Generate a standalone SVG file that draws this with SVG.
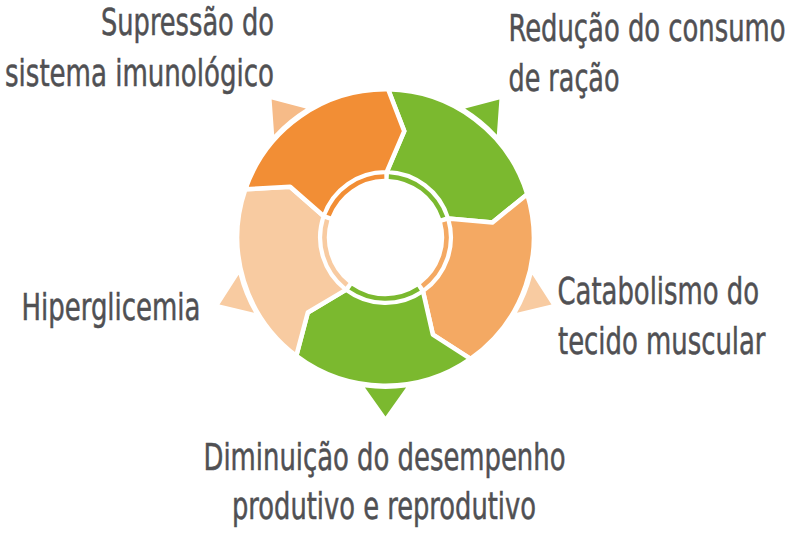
<svg xmlns="http://www.w3.org/2000/svg" width="790" height="534" viewBox="0 0 790 534">
<style>
.seg{stroke:#ffffff;stroke-width:4.5;stroke-linejoin:round}
.ring{fill:none;stroke-width:4.6;stroke-linecap:butt}
.tri{stroke:none}
.lbl{font-family:"Liberation Sans Narrow","DejaVu Sans Condensed","Liberation Sans",Arial,sans-serif;font-size:38px;fill:#505053;stroke:#505053;stroke-width:0.5px}
.green{fill:#7bb92f}
.orange{fill:#f28e35}
.peach{fill:#f4a963}
.light{fill:#f8cba1}
</style>
<rect width="790" height="534" fill="#ffffff"/>
<g id="node-reducao">
<path class="tri green" d="M465.11,108.60 L499.36,99.38 L496.84,134.76 A151.5,151.5 0 0 0 465.11,108.60 Z"/>
<path class="seg green" d="M388.09,89.27 A148.25,148.25 0 0 1 527.27,194.16 L492.45,222.47 L447.90,218.42 A65.25,65.25 0 0 0 386.64,172.26 L404.25,131.14 Z"/>
<path class="ring" stroke="#7bb92f" d="M388.80,176.59 A61,61 0 0 1 443.14,217.54"/>
<text class="lbl" transform="translate(508.5,41) scale(0.76,1)" textLength="364.47" lengthAdjust="spacingAndGlyphs">Redução do consumo</text>
<text class="lbl" transform="translate(508.5,90.5) scale(0.76,1)" textLength="146.05" lengthAdjust="spacingAndGlyphs">de ração</text>
</g>
<g id="node-catabolismo">
<path class="tri light" d="M532.37,274.66 L551.47,304.56 L516.97,312.79 A151.5,151.5 0 0 0 532.37,274.66 Z"/>
<path class="seg peach" d="M527.27,194.16 A148.25,148.25 0 0 1 470.53,358.94 L432.84,334.57 L422.93,290.95 A65.25,65.25 0 0 0 447.90,218.42 L492.45,222.47 Z"/>
<path class="ring" stroke="#f4a963" d="M444.45,221.82 A61,61 0 0 1 422.30,286.15"/>
<text class="lbl" transform="translate(557.5,303.5) scale(0.76,1)" textLength="265.13" lengthAdjust="spacingAndGlyphs">Catabolismo do</text>
<text class="lbl" transform="translate(558,354) scale(0.76,1)" textLength="273.03" lengthAdjust="spacingAndGlyphs">tecido muscular</text>
</g>
<g id="node-diminuicao">
<path class="tri green" d="M406.06,387.60 L385.5,416.5 L364.94,387.60 A151.5,151.5 0 0 0 406.06,387.60 Z"/>
<path class="seg green" d="M470.53,358.94 A148.25,148.25 0 0 1 296.28,355.90 L307.81,312.52 L346.23,289.61 A65.25,65.25 0 0 0 422.93,290.95 L432.84,334.57 Z"/>
<path class="ring" stroke="#7bb92f" d="M418.63,288.72 A61,61 0 0 1 350.60,287.53"/>
<text class="lbl" transform="translate(203.5,469.5) scale(0.76,1)" textLength="476.32" lengthAdjust="spacingAndGlyphs">Diminuição do desempenho</text>
<text class="lbl" transform="translate(232,518.5) scale(0.76,1)" textLength="400" lengthAdjust="spacingAndGlyphs">produtivo e reprodutivo</text>
</g>
<g id="node-hiperglicemia">
<path class="tri light" d="M254.03,312.79 L219.53,304.56 L238.63,274.66 A151.5,151.5 0 0 0 254.03,312.79 Z"/>
<path class="seg light" d="M296.28,355.90 A148.25,148.25 0 0 1 245.33,189.24 L290.14,186.80 L323.81,216.26 A65.25,65.25 0 0 0 346.23,289.61 L307.81,312.52 Z"/>
<path class="ring" stroke="#f8cba1" d="M347.03,284.84 A61,61 0 0 1 327.13,219.77"/>
<text class="lbl" transform="translate(21.5,320) scale(0.76,1)" textLength="235.53" lengthAdjust="spacingAndGlyphs">Hiperglicemia</text>
</g>
<g id="node-supressao">
<path class="tri" fill="#f6bb88" d="M274.16,134.76 L271.64,99.38 L305.89,108.60 A151.5,151.5 0 0 0 274.16,134.76 Z"/>
<path class="seg orange" d="M245.33,189.24 A148.25,148.25 0 0 1 388.09,89.27 L404.25,131.14 L386.64,172.26 A65.25,65.25 0 0 0 323.81,216.26 L290.14,186.80 Z"/>
<path class="ring" stroke="#f28e35" d="M328.59,215.54 A61,61 0 0 1 384.33,176.51"/>
<text class="lbl" transform="translate(101,35) scale(0.76,1)" textLength="227.63" lengthAdjust="spacingAndGlyphs">Supressão do</text>
<text class="lbl" transform="translate(5,85.5) scale(0.76,1)" textLength="353.95" lengthAdjust="spacingAndGlyphs">sistema imunológico</text>
</g>
<g id="connectors"></g>
</svg>
